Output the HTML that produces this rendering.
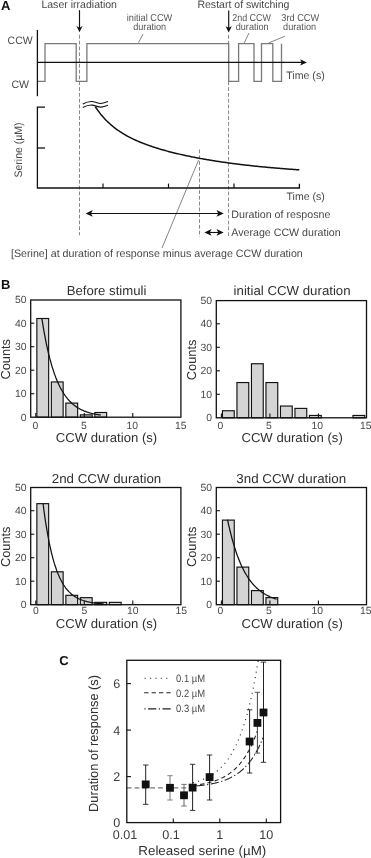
<!DOCTYPE html>
<html><head><meta charset="utf-8"><title>Figure</title>
<style>
html,body{margin:0;padding:0;background:#fff;}
svg{display:block;font-family:"Liberation Sans",sans-serif;will-change:transform;text-rendering:geometricPrecision;}
</style></head>
<body>
<svg width="371" height="858" viewBox="0 0 371 858">
<rect width="371" height="858" fill="#ffffff"/>
<g id="panelA">
<text x="0.9" y="10.4" font-size="13" fill="#111" font-weight="bold">A</text>
<text x="41.4" y="7.8" font-size="10.8" fill="#484848" textLength="75.6" lengthAdjust="spacingAndGlyphs">Laser irradiation</text>
<text x="197.4" y="7.8" font-size="10.8" fill="#484848" textLength="92" lengthAdjust="spacingAndGlyphs">Restart of switching</text>
<text x="149.5" y="21" font-size="10" fill="#555" text-anchor="middle" textLength="45.4" lengthAdjust="spacingAndGlyphs">initial CCW</text>
<text x="149.7" y="30.3" font-size="10" fill="#555" text-anchor="middle" textLength="33" lengthAdjust="spacingAndGlyphs">duration</text>
<text x="251.6" y="20.7" font-size="10" fill="#555" text-anchor="middle" textLength="38.6" lengthAdjust="spacingAndGlyphs">2nd CCW</text>
<text x="252.2" y="30.4" font-size="10" fill="#555" text-anchor="middle" textLength="33" lengthAdjust="spacingAndGlyphs">duration</text>
<text x="300.2" y="20.7" font-size="10" fill="#555" text-anchor="middle" textLength="37.8" lengthAdjust="spacingAndGlyphs">3rd CCW</text>
<text x="299.6" y="30.4" font-size="10" fill="#555" text-anchor="middle" textLength="33" lengthAdjust="spacingAndGlyphs">duration</text>
<line x1="79.5" y1="10.2" x2="79.5" y2="28.299999999999997" stroke="#111" stroke-width="1.15"/>
<path d="M76.4,26.099999999999998 L79.5,27.699999999999996 L82.6,26.099999999999998 L79.5,32.3 Z" stroke="none" stroke-width="1" fill="#111"/>
<line x1="228.7" y1="10.4" x2="228.7" y2="28.4" stroke="#111" stroke-width="1.15"/>
<path d="M225.6,26.2 L228.7,27.799999999999997 L231.79999999999998,26.2 L228.7,32.4 Z" stroke="none" stroke-width="1" fill="#111"/>
<line x1="79.5" y1="34.9" x2="79.5" y2="235.3" stroke="#6a6a6a" stroke-width="0.8" stroke-dasharray="3.8 2"/>
<line x1="228.55" y1="35" x2="228.55" y2="236.9" stroke="#6a6a6a" stroke-width="0.8" stroke-dasharray="3.8 2"/>
<line x1="199.5" y1="149.5" x2="199.5" y2="236.8" stroke="#6a6a6a" stroke-width="0.8" stroke-dasharray="3.8 2"/>
<path d="M37.5,81.3 H45 V43.7 H76.2 V81.3 H86.9 V43.7 H228.7 V81.3 H238.6 V43.7 H254 V81.3 H261.5 V43.7 H272.8 V81.3 H281.5 V43.7" stroke="#7a7a7a" stroke-width="1.3" fill="none" stroke-linejoin="miter"/>
<line x1="37.4" y1="30" x2="37.4" y2="96.2" stroke="#111" stroke-width="1.3"/>
<line x1="37.4" y1="62.4" x2="302" y2="62.4" stroke="#111" stroke-width="1.15"/>
<path d="M300.2,59.3 L301.6,62.4 L300.2,65.5 L306.9,62.4 Z" stroke="none" stroke-width="1" fill="#111"/>
<text x="7.6" y="43.7" font-size="10.8" fill="#484848" textLength="25" lengthAdjust="spacingAndGlyphs">CCW</text>
<text x="11.4" y="88.1" font-size="10.8" fill="#484848" textLength="17.6" lengthAdjust="spacingAndGlyphs">CW</text>
<text x="286.3" y="79.4" font-size="10.8" fill="#484848" textLength="38.4" lengthAdjust="spacingAndGlyphs">Time (s)</text>
<line x1="143" y1="34.1" x2="138.5" y2="42.6" stroke="#333" stroke-width="0.6"/>
<line x1="249" y1="33" x2="244.2" y2="43" stroke="#333" stroke-width="0.6"/>
<line x1="285" y1="36.2" x2="268.8" y2="42.9" stroke="#333" stroke-width="0.6"/>
<path d="M45,107.2 H37.4 V188 H299.4 V183.8" stroke="#111" stroke-width="1.3" fill="none"/>
<line x1="37.4" y1="148" x2="45" y2="148" stroke="#111" stroke-width="1.3"/>
<line x1="103" y1="183.6" x2="103" y2="188" stroke="#111" stroke-width="1.2"/>
<line x1="168.5" y1="183.6" x2="168.5" y2="188" stroke="#111" stroke-width="1.2"/>
<line x1="234" y1="183.6" x2="234" y2="188" stroke="#111" stroke-width="1.2"/>
<text x="22.3" y="150" font-size="10.8" fill="#484848" text-anchor="middle" textLength="55" lengthAdjust="spacingAndGlyphs" transform="rotate(-90 22.3 150)">Serine (µM)</text>
<path d="M82.8,103.9 C86,102.3 89,101.2 92,101.5 S98.5,103.7 101,103.5 S105.5,102.6 107.9,101.6" stroke="#111" stroke-width="1.1" fill="none"/>
<path d="M82.8,107.5 C86,105.9 89,104.8 92,105.1 S98.5,107.3 101,107.1 S105.5,106.2 107.9,105.2" stroke="#111" stroke-width="1.1" fill="none"/>
<path d="M95.3,106.75 L96.3,108.24 L97.3,109.68 L98.3,111.06 L99.3,112.38 L100.3,113.66 L101.3,114.90 L102.3,116.08 L103.3,117.23 L104.3,118.33 L105.3,119.40 L106.3,120.43 L107.3,121.43 L108.3,122.39 L109.3,123.32 L110.3,124.22 L111.3,125.09 L112.3,125.93 L113.3,126.75 L114.3,127.55 L115.3,128.32 L116.3,129.06 L117.3,129.79 L118.3,130.49 L119.3,131.18 L120.3,131.84 L121.3,132.49 L122.3,133.12 L123.3,133.73 L124.3,134.33 L125.3,134.91 L126.3,135.48 L127.3,136.04 L128.3,136.58 L129.3,137.10 L130.3,137.62 L131.3,138.12 L132.3,138.62 L133.3,139.10 L134.3,139.57 L135.3,140.03 L136.3,140.48 L137.3,140.92 L138.3,141.36 L139.3,141.78 L140.3,142.20 L141.3,142.61 L142.3,143.01 L143.3,143.40 L144.3,143.79 L145.3,144.17 L146.3,144.54 L147.3,144.91 L148.3,145.27 L149.3,145.62 L150.3,145.97 L151.3,146.31 L152.3,146.65 L153.3,146.98 L154.3,147.30 L155.3,147.63 L156.3,147.94 L157.3,148.25 L158.3,148.56 L159.3,148.86 L160.3,149.16 L161.3,149.46 L162.3,149.74 L163.3,150.03 L164.3,150.31 L165.3,150.59 L166.3,150.86 L167.3,151.14 L168.3,151.40 L169.3,151.67 L170.3,151.93 L171.3,152.18 L172.3,152.44 L173.3,152.69 L174.3,152.93 L175.3,153.18 L176.3,153.42 L177.3,153.66 L178.3,153.89 L179.3,154.13 L180.3,154.36 L181.3,154.58 L182.3,154.81 L183.3,155.03 L184.3,155.25 L185.3,155.47 L186.3,155.68 L187.3,155.89 L188.3,156.10 L189.3,156.31 L190.3,156.52 L191.3,156.72 L192.3,156.92 L193.3,157.12 L194.3,157.31 L195.3,157.51 L196.3,157.70 L197.3,157.89 L198.3,158.08 L199.3,158.26 L200.3,158.45 L201.3,158.63 L202.3,158.81 L203.3,158.99 L204.3,159.16 L205.3,159.34 L206.3,159.51 L207.3,159.68 L208.3,159.85 L209.3,160.02 L210.3,160.18 L211.3,160.35 L212.3,160.51 L213.3,160.67 L214.3,160.83 L215.3,160.98 L216.3,161.14 L217.3,161.29 L218.3,161.45 L219.3,161.60 L220.3,161.75 L221.3,161.89 L222.3,162.04 L223.3,162.19 L224.3,162.33 L225.3,162.47 L226.3,162.61 L227.3,162.75 L228.3,162.89 L229.3,163.02 L230.3,163.16 L231.3,163.29 L232.3,163.42 L233.3,163.56 L234.3,163.68 L235.3,163.81 L236.3,163.94 L237.3,164.07 L238.3,164.19 L239.3,164.31 L240.3,164.44 L241.3,164.56 L242.3,164.68 L243.3,164.79 L244.3,164.91 L245.3,165.03 L246.3,165.14 L247.3,165.26 L248.3,165.37 L249.3,165.48 L250.3,165.59 L251.3,165.70 L252.3,165.81 L253.3,165.92 L254.3,166.02 L255.3,166.13 L256.3,166.23 L257.3,166.33 L258.3,166.44 L259.3,166.54 L260.3,166.64 L261.3,166.74 L262.3,166.83 L263.3,166.93 L264.3,167.03 L265.3,167.12 L266.3,167.22 L267.3,167.31 L268.3,167.40 L269.3,167.49 L270.3,167.58 L271.3,167.67 L272.3,167.76 L273.3,167.85 L274.3,167.94 L275.3,168.02 L276.3,168.11 L277.3,168.19 L278.3,168.28 L279.3,168.36 L280.3,168.44 L281.3,168.52 L282.3,168.60 L283.3,168.68 L284.3,168.76 L285.3,168.84 L286.3,168.92 L287.3,169.00 L288.3,169.07 L289.3,169.15 L290.3,169.22 L291.3,169.29 L292.3,169.37 L293.3,169.44 L294.3,169.51 L295.3,169.58 L296.3,169.65 L297.3,169.72 L298.3,169.79 L299.3,169.86" stroke="#111" stroke-width="1.5" fill="none"/>
<text x="286.5" y="200.2" font-size="10.8" fill="#484848" textLength="38.2" lengthAdjust="spacingAndGlyphs">Time (s)</text>
<line x1="198.6" y1="160" x2="162" y2="248" stroke="#333" stroke-width="0.6"/>
<line x1="90" y1="213.45" x2="219" y2="213.45" stroke="#111" stroke-width="1.05"/>
<path d="M92.8,210.04999999999998 L91.0,213.45 L92.8,216.85 L85.6,213.45 Z" stroke="none" stroke-width="1" fill="#111"/>
<path d="M216.5,210.04999999999998 L218.29999999999998,213.45 L216.5,216.85 L223.7,213.45 Z" stroke="none" stroke-width="1" fill="#111"/>
<line x1="208" y1="232.45" x2="220" y2="232.45" stroke="#111" stroke-width="1.05"/>
<path d="M211.6,229.04999999999998 L209.8,232.45 L211.6,235.85 L204.4,232.45 Z" stroke="none" stroke-width="1" fill="#111"/>
<path d="M216.5,229.04999999999998 L218.29999999999998,232.45 L216.5,235.85 L223.7,232.45 Z" stroke="none" stroke-width="1" fill="#111"/>
<text x="231.3" y="217.5" font-size="10.8" fill="#484848" textLength="99.1" lengthAdjust="spacingAndGlyphs">Duration of resposne</text>
<text x="231.3" y="235.8" font-size="10.8" fill="#484848" textLength="109.3" lengthAdjust="spacingAndGlyphs">Average CCW duration</text>
<text x="11" y="257.3" font-size="10.8" fill="#484848" textLength="291.8" lengthAdjust="spacingAndGlyphs">[Serine] at duration of response minus average CCW duration</text>
</g>
<g id="panelB">
<text x="0.9" y="288.6" font-size="13" fill="#111" font-weight="bold">B</text>
<g transform="translate(0 0)">
<rect x="36.85" y="318.50" width="11.8" height="98.70" fill="#d4d4d4" stroke="#111" stroke-width="1.15"/>
<rect x="51.35" y="381.95" width="11.8" height="35.25" fill="#d4d4d4" stroke="#111" stroke-width="1.15"/>
<rect x="65.85" y="403.10" width="11.8" height="14.10" fill="#d4d4d4" stroke="#111" stroke-width="1.15"/>
<rect x="80.35" y="414.85" width="11.8" height="2.35" fill="#d4d4d4" stroke="#111" stroke-width="1.15"/>
<rect x="94.85" y="412.50" width="11.8" height="4.70" fill="#d4d4d4" stroke="#111" stroke-width="1.15"/>
<rect x="30.7" y="300.0" width="150.20000000000002" height="117.19999999999999" fill="none" stroke="#111" stroke-width="1.3"/>
<line x1="30.7" y1="393.7" x2="34.3" y2="393.7" stroke="#111" stroke-width="1.1"/>
<line x1="30.7" y1="370.2" x2="34.3" y2="370.2" stroke="#111" stroke-width="1.1"/>
<line x1="30.7" y1="346.7" x2="34.3" y2="346.7" stroke="#111" stroke-width="1.1"/>
<line x1="30.7" y1="323.2" x2="34.3" y2="323.2" stroke="#111" stroke-width="1.1"/>
<line x1="35.8" y1="417.2" x2="35.8" y2="413.0" stroke="#111" stroke-width="1.1"/>
<line x1="84.3" y1="417.2" x2="84.3" y2="413.0" stroke="#111" stroke-width="1.1"/>
<line x1="132.8" y1="417.2" x2="132.8" y2="413.0" stroke="#111" stroke-width="1.1"/>
<text x="26.5" y="420.9" font-size="10.4" fill="#4a4a4a" text-anchor="end">0</text>
<text x="26.5" y="397.4" font-size="10.4" fill="#4a4a4a" text-anchor="end">10</text>
<text x="26.5" y="373.9" font-size="10.4" fill="#4a4a4a" text-anchor="end">20</text>
<text x="26.5" y="350.4" font-size="10.4" fill="#4a4a4a" text-anchor="end">30</text>
<text x="26.5" y="326.9" font-size="10.4" fill="#4a4a4a" text-anchor="end">40</text>
<text x="26.5" y="303.4" font-size="10.4" fill="#4a4a4a" text-anchor="end">50</text>
<text x="35.3" y="428.7" font-size="10.4" fill="#4a4a4a" text-anchor="middle">0</text>
<text x="83.8" y="428.7" font-size="10.4" fill="#4a4a4a" text-anchor="middle">5</text>
<text x="132.3" y="428.7" font-size="10.4" fill="#4a4a4a" text-anchor="middle">10</text>
<text x="180.8" y="428.7" font-size="10.4" fill="#4a4a4a" text-anchor="middle">15</text>
<text x="10.2" y="359.3" font-size="13" fill="#303030" text-anchor="middle" textLength="40.6" lengthAdjust="spacingAndGlyphs" transform="rotate(-90 10.2 359.3)">Counts</text>
<text x="106.5" y="442" font-size="13" fill="#303030" text-anchor="middle" textLength="101.4" lengthAdjust="spacingAndGlyphs">CCW duration (s)</text>
<text x="106.5" y="294.6" font-size="13" fill="#303030" text-anchor="middle" textLength="79.7" lengthAdjust="spacingAndGlyphs">Before stimuli</text>
<path d="M41.8,318.31 L42.6,322.96 L43.3,327.38 L44.0,331.60 L44.8,335.62 L45.5,339.45 L46.2,343.10 L47.0,346.58 L47.7,349.90 L48.4,353.06 L49.2,356.07 L49.9,358.94 L50.7,361.68 L51.4,364.29 L52.1,366.77 L52.9,369.14 L53.6,371.40 L54.3,373.55 L55.1,375.60 L55.8,377.55 L56.6,379.41 L57.3,381.19 L58.0,382.88 L58.8,384.49 L59.5,386.03 L60.2,387.49 L61.0,388.89 L61.7,390.22 L62.5,391.48 L63.2,392.69 L63.9,393.84 L64.7,394.94 L65.4,395.98 L66.1,396.98 L66.9,397.93 L67.6,398.84 L68.4,399.70 L69.1,400.52 L69.8,401.30 L70.6,402.05 L71.3,402.76 L72.0,403.44 L72.8,404.09 L73.5,404.70 L74.3,405.29 L75.0,405.85 L75.7,406.38 L76.5,406.89 L77.2,407.37 L77.9,407.83 L78.7,408.27 L79.4,408.69 L80.1,409.09 L80.9,409.47 L81.6,409.84 L82.4,410.18 L83.1,410.51 L83.8,410.83 L84.6,411.13 L85.3,411.41 L86.0,411.68 L86.8,411.94 L87.5,412.19 L88.3,412.42 L89.0,412.65 L89.7,412.86 L90.5,413.07 L91.2,413.26 L91.9,413.45 L92.7,413.62 L93.4,413.79 L94.2,413.95 L94.9,414.10 L95.6,414.25 L96.4,414.39 L97.1,414.52 L97.8,414.64 L98.6,414.76 L99.3,414.88 L100.1,414.99 L100.8,415.09" stroke="#111" stroke-width="1.25" fill="none"/>
</g>
<g transform="translate(185.6 0.6)">
<rect x="36.85" y="410.15" width="11.8" height="7.05" fill="#d4d4d4" stroke="#111" stroke-width="1.15"/>
<rect x="51.35" y="381.95" width="11.8" height="35.25" fill="#d4d4d4" stroke="#111" stroke-width="1.15"/>
<rect x="65.85" y="363.15" width="11.8" height="54.05" fill="#d4d4d4" stroke="#111" stroke-width="1.15"/>
<rect x="80.35" y="381.95" width="11.8" height="35.25" fill="#d4d4d4" stroke="#111" stroke-width="1.15"/>
<rect x="94.85" y="405.45" width="11.8" height="11.75" fill="#d4d4d4" stroke="#111" stroke-width="1.15"/>
<rect x="109.35" y="407.80" width="11.8" height="9.40" fill="#d4d4d4" stroke="#111" stroke-width="1.15"/>
<rect x="123.85" y="414.85" width="11.8" height="2.35" fill="#d4d4d4" stroke="#111" stroke-width="1.15"/>
<rect x="167.35" y="414.85" width="11.8" height="2.35" fill="#d4d4d4" stroke="#111" stroke-width="1.15"/>
<rect x="30.7" y="300.0" width="150.20000000000002" height="117.19999999999999" fill="none" stroke="#111" stroke-width="1.3"/>
<line x1="30.7" y1="393.7" x2="34.3" y2="393.7" stroke="#111" stroke-width="1.1"/>
<line x1="30.7" y1="370.2" x2="34.3" y2="370.2" stroke="#111" stroke-width="1.1"/>
<line x1="30.7" y1="346.7" x2="34.3" y2="346.7" stroke="#111" stroke-width="1.1"/>
<line x1="30.7" y1="323.2" x2="34.3" y2="323.2" stroke="#111" stroke-width="1.1"/>
<line x1="35.8" y1="417.2" x2="35.8" y2="413.0" stroke="#111" stroke-width="1.1"/>
<line x1="84.3" y1="417.2" x2="84.3" y2="413.0" stroke="#111" stroke-width="1.1"/>
<line x1="132.8" y1="417.2" x2="132.8" y2="413.0" stroke="#111" stroke-width="1.1"/>
<text x="26.5" y="420.9" font-size="10.4" fill="#4a4a4a" text-anchor="end">0</text>
<text x="26.5" y="397.4" font-size="10.4" fill="#4a4a4a" text-anchor="end">10</text>
<text x="26.5" y="373.9" font-size="10.4" fill="#4a4a4a" text-anchor="end">20</text>
<text x="26.5" y="350.4" font-size="10.4" fill="#4a4a4a" text-anchor="end">30</text>
<text x="26.5" y="326.9" font-size="10.4" fill="#4a4a4a" text-anchor="end">40</text>
<text x="26.5" y="303.4" font-size="10.4" fill="#4a4a4a" text-anchor="end">50</text>
<text x="34.7" y="428.1" font-size="10.4" fill="#4a4a4a" text-anchor="middle">0</text>
<text x="83.2" y="428.1" font-size="10.4" fill="#4a4a4a" text-anchor="middle">5</text>
<text x="131.7" y="428.1" font-size="10.4" fill="#4a4a4a" text-anchor="middle">10</text>
<text x="180.2" y="428.1" font-size="10.4" fill="#4a4a4a" text-anchor="middle">15</text>
<text x="10.2" y="359.3" font-size="13" fill="#303030" text-anchor="middle" textLength="40.6" lengthAdjust="spacingAndGlyphs" transform="rotate(-90 10.2 359.3)">Counts</text>
<text x="106.5" y="441.1" font-size="13" fill="#303030" text-anchor="middle" textLength="101.4" lengthAdjust="spacingAndGlyphs">CCW duration (s)</text>
<text x="106.5" y="294.0" font-size="13" fill="#303030" text-anchor="middle" textLength="117" lengthAdjust="spacingAndGlyphs">initial CCW duration</text>
</g>
<g transform="translate(0 187.5)">
<rect x="36.85" y="316.15" width="11.8" height="101.05" fill="#d4d4d4" stroke="#111" stroke-width="1.15"/>
<rect x="51.35" y="384.30" width="11.8" height="32.90" fill="#d4d4d4" stroke="#111" stroke-width="1.15"/>
<rect x="65.85" y="407.80" width="11.8" height="9.40" fill="#d4d4d4" stroke="#111" stroke-width="1.15"/>
<rect x="80.35" y="410.15" width="11.8" height="7.05" fill="#d4d4d4" stroke="#111" stroke-width="1.15"/>
<rect x="94.85" y="414.85" width="11.8" height="2.35" fill="#d4d4d4" stroke="#111" stroke-width="1.15"/>
<rect x="109.35" y="414.85" width="11.8" height="2.35" fill="#d4d4d4" stroke="#111" stroke-width="1.15"/>
<rect x="30.7" y="300.0" width="150.20000000000002" height="117.19999999999999" fill="none" stroke="#111" stroke-width="1.3"/>
<line x1="30.7" y1="393.7" x2="34.3" y2="393.7" stroke="#111" stroke-width="1.1"/>
<line x1="30.7" y1="370.2" x2="34.3" y2="370.2" stroke="#111" stroke-width="1.1"/>
<line x1="30.7" y1="346.7" x2="34.3" y2="346.7" stroke="#111" stroke-width="1.1"/>
<line x1="30.7" y1="323.2" x2="34.3" y2="323.2" stroke="#111" stroke-width="1.1"/>
<line x1="35.8" y1="417.2" x2="35.8" y2="413.0" stroke="#111" stroke-width="1.1"/>
<line x1="84.3" y1="417.2" x2="84.3" y2="413.0" stroke="#111" stroke-width="1.1"/>
<line x1="132.8" y1="417.2" x2="132.8" y2="413.0" stroke="#111" stroke-width="1.1"/>
<text x="26.5" y="420.9" font-size="10.4" fill="#4a4a4a" text-anchor="end">0</text>
<text x="26.5" y="397.4" font-size="10.4" fill="#4a4a4a" text-anchor="end">10</text>
<text x="26.5" y="373.9" font-size="10.4" fill="#4a4a4a" text-anchor="end">20</text>
<text x="26.5" y="350.4" font-size="10.4" fill="#4a4a4a" text-anchor="end">30</text>
<text x="26.5" y="326.9" font-size="10.4" fill="#4a4a4a" text-anchor="end">40</text>
<text x="26.5" y="303.4" font-size="10.4" fill="#4a4a4a" text-anchor="end">50</text>
<text x="35.8" y="426.8" font-size="10.4" fill="#4a4a4a" text-anchor="middle">0</text>
<text x="84.3" y="426.8" font-size="10.4" fill="#4a4a4a" text-anchor="middle">5</text>
<text x="132.8" y="426.8" font-size="10.4" fill="#4a4a4a" text-anchor="middle">10</text>
<text x="181.3" y="426.8" font-size="10.4" fill="#4a4a4a" text-anchor="middle">15</text>
<text x="10.2" y="359.3" font-size="13" fill="#303030" text-anchor="middle" textLength="40.6" lengthAdjust="spacingAndGlyphs" transform="rotate(-90 10.2 359.3)">Counts</text>
<text x="106.5" y="440.4" font-size="13" fill="#303030" text-anchor="middle" textLength="101.4" lengthAdjust="spacingAndGlyphs">CCW duration (s)</text>
<text x="106.5" y="295.6" font-size="13" fill="#303030" text-anchor="middle" textLength="109.5" lengthAdjust="spacingAndGlyphs">2nd CCW duration</text>
<path d="M43.1,316.10 L43.8,322.00 L44.6,327.55 L45.3,332.78 L46.1,337.70 L46.9,342.34 L47.6,346.71 L48.4,350.82 L49.1,354.69 L49.9,358.34 L50.7,361.77 L51.4,365.00 L52.2,368.05 L52.9,370.91 L53.7,373.61 L54.4,376.16 L55.2,378.55 L56.0,380.80 L56.7,382.93 L57.5,384.93 L58.2,386.81 L59.0,388.58 L59.7,390.25 L60.5,391.82 L61.3,393.30 L62.0,394.70 L62.8,396.01 L63.5,397.24 L64.3,398.41 L65.1,399.50 L65.8,400.54 L66.6,401.51 L67.3,402.42 L68.1,403.29 L68.8,404.10 L69.6,404.86 L70.4,405.58 L71.1,406.26 L71.9,406.90 L72.6,407.50 L73.4,408.06 L74.1,408.60 L74.9,409.10 L75.7,409.57 L76.4,410.02 L77.2,410.43 L77.9,410.83 L78.7,411.20 L79.4,411.55 L80.2,411.88 L81.0,412.19 L81.7,412.48 L82.5,412.76 L83.2,413.02 L84.0,413.26 L84.8,413.49 L85.5,413.71 L86.3,413.91 L87.0,414.10 L87.8,414.28 L88.5,414.45 L89.3,414.61 L90.1,414.76 L90.8,414.91 L91.6,415.04 L92.3,415.17 L93.1,415.28 L93.8,415.40 L94.6,415.50 L95.4,415.60 L96.1,415.69 L96.9,415.78 L97.6,415.86 L98.4,415.94 L99.2,416.02 L99.9,416.08 L100.7,416.15 L101.4,416.21 L102.2,416.27 L102.9,416.32 L103.7,416.37" stroke="#111" stroke-width="1.25" fill="none"/>
</g>
<g transform="translate(185.6 187.5)">
<rect x="36.85" y="332.60" width="11.8" height="84.60" fill="#d4d4d4" stroke="#111" stroke-width="1.15"/>
<rect x="51.35" y="379.60" width="11.8" height="37.60" fill="#d4d4d4" stroke="#111" stroke-width="1.15"/>
<rect x="65.85" y="403.10" width="11.8" height="14.10" fill="#d4d4d4" stroke="#111" stroke-width="1.15"/>
<rect x="80.35" y="410.15" width="11.8" height="7.05" fill="#d4d4d4" stroke="#111" stroke-width="1.15"/>
<rect x="30.7" y="300.0" width="150.20000000000002" height="117.19999999999999" fill="none" stroke="#111" stroke-width="1.3"/>
<line x1="30.7" y1="393.7" x2="34.3" y2="393.7" stroke="#111" stroke-width="1.1"/>
<line x1="30.7" y1="370.2" x2="34.3" y2="370.2" stroke="#111" stroke-width="1.1"/>
<line x1="30.7" y1="346.7" x2="34.3" y2="346.7" stroke="#111" stroke-width="1.1"/>
<line x1="30.7" y1="323.2" x2="34.3" y2="323.2" stroke="#111" stroke-width="1.1"/>
<line x1="35.8" y1="417.2" x2="35.8" y2="413.0" stroke="#111" stroke-width="1.1"/>
<line x1="84.3" y1="417.2" x2="84.3" y2="413.0" stroke="#111" stroke-width="1.1"/>
<line x1="132.8" y1="417.2" x2="132.8" y2="413.0" stroke="#111" stroke-width="1.1"/>
<text x="26.5" y="420.9" font-size="10.4" fill="#4a4a4a" text-anchor="end">0</text>
<text x="26.5" y="397.4" font-size="10.4" fill="#4a4a4a" text-anchor="end">10</text>
<text x="26.5" y="373.9" font-size="10.4" fill="#4a4a4a" text-anchor="end">20</text>
<text x="26.5" y="350.4" font-size="10.4" fill="#4a4a4a" text-anchor="end">30</text>
<text x="26.5" y="326.9" font-size="10.4" fill="#4a4a4a" text-anchor="end">40</text>
<text x="26.5" y="303.4" font-size="10.4" fill="#4a4a4a" text-anchor="end">50</text>
<text x="34.7" y="426.8" font-size="10.4" fill="#4a4a4a" text-anchor="middle">0</text>
<text x="83.2" y="426.8" font-size="10.4" fill="#4a4a4a" text-anchor="middle">5</text>
<text x="131.7" y="426.8" font-size="10.4" fill="#4a4a4a" text-anchor="middle">10</text>
<text x="180.2" y="426.8" font-size="10.4" fill="#4a4a4a" text-anchor="middle">15</text>
<text x="10.2" y="359.3" font-size="13" fill="#303030" text-anchor="middle" textLength="40.6" lengthAdjust="spacingAndGlyphs" transform="rotate(-90 10.2 359.3)">Counts</text>
<text x="106.5" y="440.4" font-size="13" fill="#303030" text-anchor="middle" textLength="101.4" lengthAdjust="spacingAndGlyphs">CCW duration (s)</text>
<text x="105.6" y="295.6" font-size="13" fill="#303030" text-anchor="middle" textLength="109.8" lengthAdjust="spacingAndGlyphs">3nd CCW duration</text>
<path d="M41.9,332.11 L42.5,334.97 L43.1,337.74 L43.8,340.42 L44.4,343.00 L45.0,345.50 L45.6,347.92 L46.2,350.25 L46.8,352.51 L47.4,354.68 L48.1,356.79 L48.7,358.82 L49.3,360.79 L49.9,362.69 L50.5,364.52 L51.1,366.30 L51.7,368.01 L52.4,369.67 L53.0,371.27 L53.6,372.82 L54.2,374.31 L54.8,375.76 L55.4,377.15 L56.0,378.50 L56.7,379.80 L57.3,381.06 L57.9,382.28 L58.5,383.46 L59.1,384.59 L59.7,385.69 L60.4,386.75 L61.0,387.78 L61.6,388.77 L62.2,389.73 L62.8,390.65 L63.4,391.54 L64.0,392.41 L64.7,393.24 L65.3,394.05 L65.9,394.83 L66.5,395.58 L67.1,396.31 L67.7,397.01 L68.3,397.69 L69.0,398.35 L69.6,398.99 L70.2,399.60 L70.8,400.19 L71.4,400.76 L72.0,401.32 L72.6,401.85 L73.3,402.37 L73.9,402.87 L74.5,403.35 L75.1,403.82 L75.7,404.27 L76.3,404.70 L77.0,405.13 L77.6,405.53 L78.2,405.92 L78.8,406.30 L79.4,406.67 L80.0,407.03 L80.6,407.37 L81.3,407.70 L81.9,408.02 L82.5,408.33 L83.1,408.63 L83.7,408.92 L84.3,409.20 L84.9,409.46 L85.6,409.73 L86.2,409.98 L86.8,410.22 L87.4,410.46 L88.0,410.68 L88.6,410.90 L89.2,411.11 L89.9,411.32 L90.5,411.52 L91.1,411.71" stroke="#111" stroke-width="1.25" fill="none"/>
</g>
</g>
<g id="panelC">
<text x="59.2" y="664.5" font-size="13" fill="#111" font-weight="bold">C</text>
<clipPath id="cc"><rect x="126.8" y="660.3" width="153.8" height="162.30000000000007"/></clipPath>
<path d="M192.8,782.76 L193.2,782.65 L193.7,782.53 L194.1,782.41 L194.6,782.28 L195.1,782.16 L195.5,782.02 L196.0,781.89 L196.5,781.75 L196.9,781.61 L197.4,781.47 L197.9,781.33 L198.3,781.18 L198.8,781.02 L199.3,780.86 L199.7,780.70 L200.2,780.54 L200.7,780.37 L201.1,780.20 L201.6,780.02 L202.1,779.84 L202.5,779.66 L203.0,779.47 L203.4,779.28 L203.9,779.08 L204.4,778.88 L204.8,778.67 L205.3,778.46 L205.8,778.24 L206.2,778.02 L206.7,777.79 L207.2,777.56 L207.6,777.32 L208.1,777.08 L208.6,776.83 L209.0,776.58 L209.5,776.32 L210.0,776.05 L210.4,775.78 L210.9,775.50 L211.4,775.21 L211.8,774.92 L212.3,774.62 L212.7,774.32 L213.2,774.00 L213.7,773.68 L214.1,773.35 L214.6,773.02 L215.1,772.68 L215.5,772.32 L216.0,771.96 L216.5,771.60 L216.9,771.22 L217.4,770.83 L217.9,770.44 L218.3,770.04 L218.8,769.62 L219.3,769.20 L219.7,768.77 L220.2,768.33 L220.7,767.87 L221.1,767.41 L221.6,766.94 L222.0,766.45 L222.5,765.96 L223.0,765.45 L223.4,764.93 L223.9,764.40 L224.4,763.85 L224.8,763.30 L225.3,762.73 L225.8,762.14 L226.2,761.55 L226.7,760.94 L227.2,760.31 L227.6,759.67 L228.1,759.02 L228.6,758.35 L229.0,757.66 L229.5,756.96 L230.0,756.24 L230.4,755.51 L230.9,754.76 L231.3,753.99 L231.8,753.20 L232.3,752.40 L232.7,751.57 L233.2,750.73 L233.7,749.87 L234.1,748.99 L234.6,748.08 L235.1,747.16 L235.5,746.21 L236.0,745.25 L236.5,744.26 L236.9,743.24 L237.4,742.20 L237.9,741.14 L238.3,740.06 L238.8,738.95 L239.3,737.81 L239.7,736.65 L240.2,735.46 L240.6,734.24 L241.1,732.99 L241.6,731.71 L242.0,730.41 L242.5,729.07 L243.0,727.71 L243.4,726.31 L243.9,724.88 L244.4,723.41 L244.8,721.91 L245.3,720.38 L245.8,718.81 L246.2,717.20 L246.7,715.56 L247.2,713.88 L247.6,712.16 L248.1,710.40 L248.6,708.59 L249.0,706.75 L249.5,704.86 L249.9,702.93 L250.4,700.96 L250.9,698.93 L251.3,696.87 L251.8,694.75 L252.3,692.58 L252.7,690.36 L253.2,688.10 L253.7,685.77 L254.1,683.40 L254.6,680.97 L255.1,678.48 L255.5,675.94 L256.0,673.33 L256.5,670.67 L256.9,667.94 L257.4,665.15 L257.9,662.29 L258.3,659.37 L258.8,656.38 L259.2,653.32 L259.7,650.19 L260.2,646.98 L260.6,643.70 L261.1,640.35 L261.6,636.91 L262.0,633.67" stroke="#222" stroke-width="1.1" fill="none" stroke-dasharray="1.1 4.3" stroke-dashoffset="0" clip-path="url(#cc)"/>
<path d="M192.8,785.45 L193.2,785.39 L193.7,785.34 L194.1,785.28 L194.6,785.22 L195.1,785.16 L195.5,785.10 L196.0,785.04 L196.5,784.98 L196.9,784.91 L197.4,784.85 L197.9,784.78 L198.3,784.71 L198.8,784.64 L199.3,784.56 L199.7,784.49 L200.2,784.41 L200.7,784.34 L201.1,784.26 L201.6,784.17 L202.1,784.09 L202.5,784.01 L203.0,783.92 L203.4,783.83 L203.9,783.74 L204.4,783.64 L204.8,783.55 L205.3,783.45 L205.8,783.35 L206.2,783.25 L206.7,783.14 L207.2,783.03 L207.6,782.92 L208.1,782.81 L208.6,782.70 L209.0,782.58 L209.5,782.46 L210.0,782.33 L210.4,782.21 L210.9,782.08 L211.4,781.95 L211.8,781.81 L212.3,781.67 L212.7,781.53 L213.2,781.38 L213.7,781.24 L214.1,781.08 L214.6,780.93 L215.1,780.77 L215.5,780.61 L216.0,780.44 L216.5,780.27 L216.9,780.10 L217.4,779.92 L217.9,779.73 L218.3,779.55 L218.8,779.36 L219.3,779.16 L219.7,778.96 L220.2,778.75 L220.7,778.54 L221.1,778.33 L221.6,778.11 L222.0,777.89 L222.5,777.66 L223.0,777.42 L223.4,777.18 L223.9,776.93 L224.4,776.68 L224.8,776.42 L225.3,776.16 L225.8,775.89 L226.2,775.61 L226.7,775.33 L227.2,775.04 L227.6,774.74 L228.1,774.44 L228.6,774.13 L229.0,773.81 L229.5,773.49 L230.0,773.15 L230.4,772.81 L230.9,772.47 L231.3,772.11 L231.8,771.75 L232.3,771.37 L232.7,770.99 L233.2,770.60 L233.7,770.20 L234.1,769.79 L234.6,769.37 L235.1,768.94 L235.5,768.51 L236.0,768.06 L236.5,767.60 L236.9,767.13 L237.4,766.65 L237.9,766.16 L238.3,765.65 L238.8,765.14 L239.3,764.61 L239.7,764.07 L240.2,763.52 L240.6,762.96 L241.1,762.38 L241.6,761.79 L242.0,761.18 L242.5,760.56 L243.0,759.93 L243.4,759.28 L243.9,758.62 L244.4,757.94 L244.8,757.25 L245.3,756.53 L245.8,755.81 L246.2,755.06 L246.7,754.30 L247.2,753.52 L247.6,752.72 L248.1,751.91 L248.6,751.07 L249.0,750.22 L249.5,749.34 L249.9,748.45 L250.4,747.53 L250.9,746.60 L251.3,745.64 L251.8,744.66 L252.3,743.65 L252.7,742.63 L253.2,741.57 L253.7,740.50 L254.1,739.40 L254.6,738.27 L255.1,737.12 L255.5,735.94 L256.0,734.73 L256.5,733.50 L256.9,732.23 L257.3,731.18" stroke="#222" stroke-width="1.1" fill="none" stroke-dasharray="4.3 3.1" stroke-dashoffset="0" clip-path="url(#cc)"/>
<path d="M192.8,786.22 L193.2,786.18 L193.7,786.15 L194.1,786.11 L194.6,786.07 L195.1,786.03 L195.5,785.99 L196.0,785.95 L196.5,785.91 L196.9,785.86 L197.4,785.82 L197.9,785.77 L198.3,785.73 L198.8,785.68 L199.3,785.63 L199.7,785.58 L200.2,785.53 L200.7,785.48 L201.1,785.43 L201.6,785.37 L202.1,785.32 L202.5,785.26 L203.0,785.20 L203.4,785.14 L203.9,785.08 L204.4,785.02 L204.8,784.96 L205.3,784.89 L205.8,784.82 L206.2,784.75 L206.7,784.69 L207.2,784.61 L207.6,784.54 L208.1,784.47 L208.6,784.39 L209.0,784.31 L209.5,784.23 L210.0,784.15 L210.4,784.06 L210.9,783.98 L211.4,783.89 L211.8,783.80 L212.3,783.71 L212.7,783.61 L213.2,783.52 L213.7,783.42 L214.1,783.32 L214.6,783.21 L215.1,783.11 L215.5,783.00 L216.0,782.89 L216.5,782.77 L216.9,782.66 L217.4,782.54 L217.9,782.42 L218.3,782.29 L218.8,782.16 L219.3,782.03 L219.7,781.90 L220.2,781.76 L220.7,781.62 L221.1,781.48 L221.6,781.34 L222.0,781.19 L222.5,781.03 L223.0,780.88 L223.4,780.72 L223.9,780.55 L224.4,780.38 L224.8,780.21 L225.3,780.04 L225.8,779.86 L226.2,779.67 L226.7,779.48 L227.2,779.29 L227.6,779.09 L228.1,778.89 L228.6,778.69 L229.0,778.47 L229.5,778.26 L230.0,778.04 L230.4,777.81 L230.9,777.58 L231.3,777.34 L231.8,777.10 L232.3,776.85 L232.7,776.60 L233.2,776.34 L233.7,776.07 L234.1,775.80 L234.6,775.52 L235.1,775.23 L235.5,774.94 L236.0,774.64 L236.5,774.34 L236.9,774.02 L237.4,773.70 L237.9,773.38 L238.3,773.04 L238.8,772.70 L239.3,772.35 L239.7,771.99 L240.2,771.62 L240.6,771.25 L241.1,770.86 L241.6,770.47 L242.0,770.07 L242.5,769.65 L243.0,769.23 L243.4,768.80 L243.9,768.36 L244.4,767.91 L244.8,767.44 L245.3,766.97 L245.8,766.49 L246.2,765.99 L246.7,765.48 L247.2,764.96 L247.6,764.43 L248.1,763.89 L248.6,763.33 L249.0,762.77 L249.5,762.18 L249.9,761.59 L250.4,760.98 L250.9,760.35 L251.3,759.72 L251.8,759.06 L252.3,758.39 L252.7,757.71 L253.2,757.01 L253.7,756.29 L254.1,755.56 L254.6,754.81 L255.1,754.04 L255.5,753.26 L256.0,752.45 L256.5,751.63 L256.9,750.79 L257.4,749.93 L257.9,749.05 L258.3,748.15 L258.8,747.22 L259.2,746.28 L259.7,745.31 L260.2,744.32 L260.6,743.31 L261.1,742.28 L261.6,741.22 L262.0,740.13 L262.5,739.02 L263.0,737.89 L263.2,737.31" stroke="#222" stroke-width="1.1" fill="none" stroke-dasharray="1.2 2.5 8.2 2.5" stroke-dashoffset="0" clip-path="url(#cc)"/>
<line x1="126.8" y1="787.8" x2="189" y2="787.8" stroke="#777" stroke-width="1.2" stroke-dasharray="4.8 3"/>
<line x1="145.7" y1="765" x2="145.7" y2="804.3" stroke="#222" stroke-width="1"/>
<line x1="143.0" y1="765" x2="148.39999999999998" y2="765" stroke="#222" stroke-width="0.9"/>
<line x1="143.0" y1="804.3" x2="148.39999999999998" y2="804.3" stroke="#222" stroke-width="0.9"/>
<line x1="170" y1="775.7" x2="170" y2="800" stroke="#777" stroke-width="1"/>
<line x1="167.3" y1="775.7" x2="172.7" y2="775.7" stroke="#777" stroke-width="0.9"/>
<line x1="167.3" y1="800" x2="172.7" y2="800" stroke="#777" stroke-width="0.9"/>
<line x1="184" y1="784.4" x2="184" y2="806" stroke="#666" stroke-width="1"/>
<line x1="181.3" y1="784.4" x2="186.7" y2="784.4" stroke="#666" stroke-width="0.9"/>
<line x1="181.3" y1="806" x2="186.7" y2="806" stroke="#666" stroke-width="0.9"/>
<line x1="192.6" y1="764.3" x2="192.6" y2="810.4" stroke="#222" stroke-width="1"/>
<line x1="189.9" y1="764.3" x2="195.29999999999998" y2="764.3" stroke="#222" stroke-width="0.9"/>
<line x1="189.9" y1="810.4" x2="195.29999999999998" y2="810.4" stroke="#222" stroke-width="0.9"/>
<line x1="209.6" y1="755" x2="209.6" y2="800" stroke="#222" stroke-width="1"/>
<line x1="206.9" y1="755" x2="212.29999999999998" y2="755" stroke="#222" stroke-width="0.9"/>
<line x1="206.9" y1="800" x2="212.29999999999998" y2="800" stroke="#222" stroke-width="0.9"/>
<line x1="249.6" y1="709.8" x2="249.6" y2="773" stroke="#222" stroke-width="1"/>
<line x1="246.9" y1="709.8" x2="252.29999999999998" y2="709.8" stroke="#222" stroke-width="0.9"/>
<line x1="246.9" y1="773" x2="252.29999999999998" y2="773" stroke="#222" stroke-width="0.9"/>
<line x1="257.4" y1="692.3" x2="257.4" y2="753.1" stroke="#444" stroke-width="1"/>
<line x1="254.7" y1="692.3" x2="260.09999999999997" y2="692.3" stroke="#444" stroke-width="0.9"/>
<line x1="254.7" y1="753.1" x2="260.09999999999997" y2="753.1" stroke="#444" stroke-width="0.9"/>
<line x1="263.5" y1="662.1" x2="263.5" y2="762.3" stroke="#222" stroke-width="1"/>
<line x1="260.8" y1="662.1" x2="266.2" y2="662.1" stroke="#222" stroke-width="0.9"/>
<line x1="260.8" y1="762.3" x2="266.2" y2="762.3" stroke="#222" stroke-width="0.9"/>
<rect x="141.8" y="780.5" width="7.8" height="7.8" fill="#111"/>
<rect x="166.1" y="783.9" width="7.8" height="7.8" fill="#111"/>
<rect x="180.1" y="791.4" width="7.8" height="7.8" fill="#111"/>
<rect x="188.7" y="783.7" width="7.8" height="7.8" fill="#111"/>
<rect x="205.7" y="773.2" width="7.8" height="7.8" fill="#111"/>
<rect x="245.7" y="737.6" width="7.8" height="7.8" fill="#111"/>
<rect x="253.5" y="719.0" width="7.8" height="7.8" fill="#111"/>
<rect x="259.6" y="708.6" width="7.8" height="7.8" fill="#111"/>
<rect x="126.8" y="660.3" width="153.8" height="162.30000000000007" fill="none" stroke="#111" stroke-width="1.3"/>
<line x1="126.8" y1="776.6" x2="131.0" y2="776.6" stroke="#111" stroke-width="1.1"/>
<text x="120.3" y="781.0" font-size="12.6" fill="#3c3c3c" text-anchor="end">2</text>
<line x1="126.8" y1="730.1" x2="131.0" y2="730.1" stroke="#111" stroke-width="1.1"/>
<text x="120.3" y="734.5" font-size="12.6" fill="#3c3c3c" text-anchor="end">4</text>
<line x1="126.8" y1="683.6" x2="131.0" y2="683.6" stroke="#111" stroke-width="1.1"/>
<text x="120.3" y="688.0" font-size="12.6" fill="#3c3c3c" text-anchor="end">6</text>
<text x="120.3" y="827.1" font-size="12.6" fill="#3c3c3c" text-anchor="end">0</text>
<line x1="173.3" y1="822.6" x2="173.3" y2="818.4" stroke="#111" stroke-width="1.1"/>
<line x1="219.8" y1="822.6" x2="219.8" y2="818.4" stroke="#111" stroke-width="1.1"/>
<line x1="266.3" y1="822.6" x2="266.3" y2="818.4" stroke="#111" stroke-width="1.1"/>
<text x="124.9" y="839.4" font-size="12.6" fill="#3c3c3c" text-anchor="middle">0.01</text>
<text x="171" y="839.4" font-size="12.6" fill="#3c3c3c" text-anchor="middle">0.1</text>
<text x="219.8" y="839.4" font-size="12.6" fill="#3c3c3c" text-anchor="middle">1</text>
<text x="266.3" y="839.4" font-size="12.6" fill="#3c3c3c" text-anchor="middle">10</text>
<text x="202.3" y="854.8" font-size="13" fill="#303030" text-anchor="middle" textLength="128" lengthAdjust="spacingAndGlyphs">Released serine (µM)</text>
<text x="98" y="743.5" font-size="13.2" fill="#303030" text-anchor="middle" textLength="136.8" lengthAdjust="spacingAndGlyphs" transform="rotate(-90 98 743.5)">Duration of response (s)</text>
<line x1="144.6" y1="678.3" x2="171" y2="678.3" stroke="#222" stroke-width="1.1" stroke-dasharray="1.1 4.3"/>
<line x1="144.2" y1="692.7" x2="171" y2="692.7" stroke="#222" stroke-width="1.1" stroke-dasharray="4.3 3.1"/>
<line x1="144.4" y1="708.9" x2="171" y2="708.9" stroke="#222" stroke-width="1.1" stroke-dasharray="1.2 2.5 8.2 2.5"/>
<text x="176.1" y="682.1" font-size="10.6" fill="#4a4a4a" textLength="29" lengthAdjust="spacingAndGlyphs">0.1 µM</text>
<text x="176.1" y="696.9" font-size="10.6" fill="#4a4a4a" textLength="29" lengthAdjust="spacingAndGlyphs">0.2 µM</text>
<text x="176.1" y="712.1" font-size="10.6" fill="#4a4a4a" textLength="29" lengthAdjust="spacingAndGlyphs">0.3 µM</text>
</g>
</svg>
</body></html>
